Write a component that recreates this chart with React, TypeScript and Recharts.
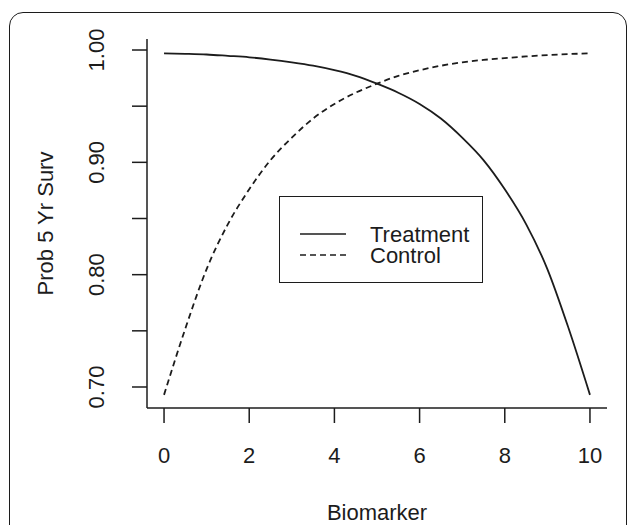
import React from "react";
import { LineChart, Line, XAxis, YAxis, Legend } from "recharts";

// values, biomarker 0..10 in half steps
const biomarker = [0, 0.5, 1, 1.5, 2, 2.5, 3, 3.5, 4, 4.5, 5, 5.5, 6, 6.5, 7, 7.5, 8, 8.5, 9, 9.5, 10];
const treatment = [
  0.997, 0.9966, 0.996, 0.9948, 0.9935, 0.9915, 0.989, 0.986, 0.982, 0.977, 0.97,
  0.962, 0.952, 0.939, 0.922, 0.902, 0.876, 0.845, 0.805, 0.752, 0.693,
];
const control = [
  0.693, 0.752, 0.805, 0.845, 0.876, 0.902, 0.922, 0.939, 0.952, 0.962, 0.97,
  0.977, 0.982, 0.986, 0.989, 0.9912, 0.9928, 0.9943, 0.9955, 0.9964, 0.997,
];
const xTicks = [0, 2, 4, 6, 8, 10];
const yTicks = [0.7, 0.75, 0.8, 0.85, 0.9, 0.95, 1.0];
const yTickLabels = ["0.70", "0.80", "0.90", "1.00"];
const legendOrder = ["Treatment", "Control"];

const rows = biomarker.map((b, i) => ({ biomarker: b, Treatment: treatment[i], Control: control[i] }));

const INK = "#1c1c1c";
const FONT = "'Liberation Sans', Arial, Helvetica, sans-serif";
const FS = 22;

const dashes: Record<string, string | undefined> = { Treatment: undefined, Control: "6 4" };

function XTick(props: any) {
  const { x, y, payload } = props;
  return (
    <text x={x} y={y + 32} textAnchor="middle" dominantBaseline="central" fontFamily={FONT} fontSize={FS} fill={INK}>
      {payload.value}
    </text>
  );
}

function YTick(props: any) {
  const { x, y, payload } = props;
  const label = Number(payload.value).toFixed(2);
  if (!yTickLabels.includes(label)) return null;
  const tx = x - 35;
  return (
    <text
      x={tx}
      y={y}
      transform={`rotate(-90, ${tx}, ${y})`}
      textAnchor="middle"
      dominantBaseline="central"
      fontFamily={FONT}
      fontSize={FS}
      fill={INK}
    >
      {label}
    </text>
  );
}

function LegendBox() {
  return (
    <div style={{ boxSizing: "border-box", width: 204, height: 87, border: `1.5px solid ${INK}`, background: "#fff" }}>
      <svg width={201} height={84} style={{ display: "block", overflow: "visible" }}>
        {legendOrder.map((name, i) => {
          const cy = 37 + i * 21;
          return (
            <g key={name}>
              <line x1={20} x2={66} y1={cy} y2={cy} stroke={INK} strokeWidth={1.6} strokeDasharray={dashes[name]} />
              <text x={90} y={cy} dominantBaseline="central" fontFamily={FONT} fontSize={FS} fill={INK}>
                {name}
              </text>
            </g>
          );
        })}
      </svg>
    </div>
  );
}

export default function App() {
  return (
    <div style={{ position: "absolute", left: 0, top: 0, width: 629, height: 525, overflow: "hidden", background: "#fff" }}>
      <div
        style={{
          position: "absolute",
          left: 9,
          top: 12,
          width: 618,
          height: 560,
          boxSizing: "border-box",
          border: `1.5px solid ${INK}`,
          borderRadius: 14,
        }}
      />
      <div style={{ position: "absolute", left: 0, top: 0 }}>
        <LineChart width={629} height={525} data={rows} margin={{ top: 39, right: 22, bottom: 0, left: 0 }}>
          <XAxis
            dataKey="biomarker"
            type="number"
            domain={[-0.4, 10.4]}
            ticks={xTicks}
            height={117}
            tickSize={15}
            tickMargin={0}
            stroke={INK}
            strokeWidth={1.5}
            tick={<XTick />}
            label={{
              content: (p: any) => {
                const vb = p.viewBox;
                return (
                  <text x={vb.x + vb.width / 2} y={vb.y + 104} textAnchor="middle" dominantBaseline="central" fontFamily={FONT} fontSize={FS} fill={INK}>
                    Biomarker
                  </text>
                );
              },
            }}
          />
          <XAxis xAxisId="top" orientation="top" dataKey="biomarker" type="number" domain={[-0.4, 10.4]} height={0} tick={false} tickLine={false} stroke={INK} strokeWidth={1.5} />
          <YAxis
            type="number"
            domain={[0.6813, 1.0098]}
            ticks={yTicks}
            width={147}
            tickSize={15}
            tickMargin={0}
            stroke={INK}
            strokeWidth={1.5}
            tick={<YTick />}
            label={{
              content: (p: any) => {
                const vb = p.viewBox;
                const cx = 45;
                const cy = vb.y + vb.height / 2;
                return (
                  <text x={cx} y={cy} transform={`rotate(-90, ${cx}, ${cy})`} textAnchor="middle" dominantBaseline="central" fontFamily={FONT} fontSize={FS} fill={INK}>
                    Prob 5 Yr Surv
                  </text>
                );
              },
            }}
          />
          <YAxis yAxisId="right" orientation="right" domain={[0.6813, 1.0098]} width={0} tick={false} tickLine={false} stroke={INK} strokeWidth={1.5} />
          <Legend
            layout="horizontal"
            verticalAlign="middle"
            align="center"
            content={<LegendBox />}
            wrapperStyle={{ left: 279, top: 196, width: 204, height: 87 }}
          />
          <Line type="monotone" dataKey="Treatment" stroke={INK} strokeWidth={1.8} dot={false} isAnimationActive={false} />
          <Line type="monotone" dataKey="Control" stroke={INK} strokeWidth={1.8} strokeDasharray="6 4" dot={false} isAnimationActive={false} />
        </LineChart>
      </div>
    </div>
  );
}
